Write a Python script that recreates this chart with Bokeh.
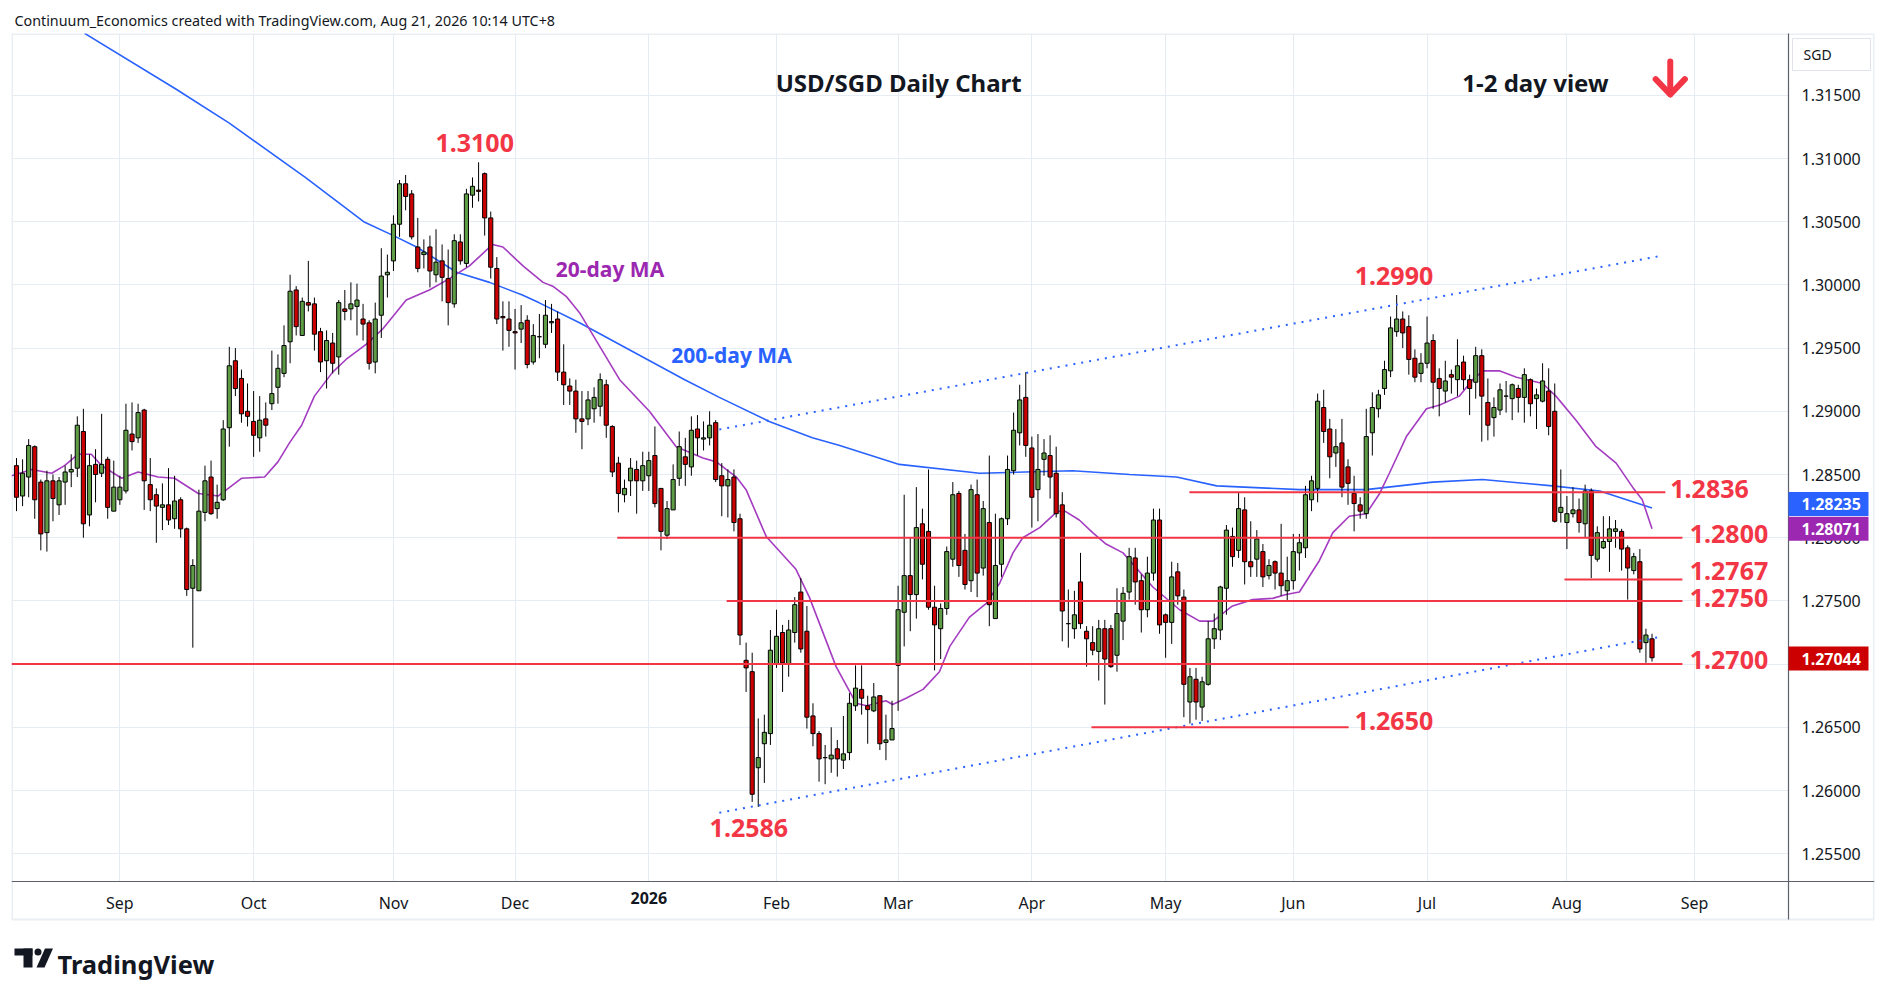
import pandas as pd
from bokeh.plotting import figure
from bokeh.models import Range1d, FixedTicker, PrintfTickFormatter, Label, Title, ColumnDataSource
from bokeh.embed import file_html
from bokeh.resources import INLINE

# ---------------- data ----------------
first_day = "2025-08-07"
holidays = ["2025-12-25", "2026-01-01"]

opens = [
1.2857,1.2833,1.2848,1.2872,1.2844,1.2804,1.2845,1.2826,1.2844,1.2852,
1.2855,1.2884,1.2818,1.2858,1.2851,1.2862,1.2821,1.2830,1.2837,1.2882,
1.2879,1.2901,1.2842,1.2834,1.2824,1.2826,1.2815,1.2830,1.2807,1.2760,
1.2758,1.2820,1.2848,1.2823,1.2830,1.2887,1.2940,1.2926,1.2900,1.2892,
1.2879,1.2894,1.2906,1.2919,1.2930,1.2955,1.2996,1.2960,1.2986,1.2985,
1.2963,1.2940,1.2954,1.2943,1.2981,1.2981,1.2983,1.2973,1.2970,1.2939,
1.2976,1.3008,1.3019,1.3048,1.3080,1.3072,1.3030,1.3024,1.3030,1.3008,
1.3019,1.3005,1.2985,1.3034,1.3017,1.3071,1.3075,1.3088,1.3053,1.3013,
1.2975,1.2973,1.2963,1.2965,1.2972,1.2939,1.2959,1.2953,1.2970,1.2973,
1.2931,1.2920,1.2916,1.2894,1.2894,1.2902,1.2904,1.2921,1.2888,1.2859,
1.2834,1.2845,1.2854,1.2845,1.2849,1.2865,1.2839,1.2802,1.2822,1.2847,
1.2864,1.2856,1.2886,1.2878,1.2879,1.2891,1.2849,1.2841,1.2848,1.2815,
1.2703,1.2694,1.2618,1.2637,1.2645,1.2700,1.2725,1.2700,1.2725,1.2757,
1.2726,1.2659,1.2645,1.2626,1.2625,1.2633,1.2624,1.2630,1.2667,1.2680,
1.2667,1.2663,1.2675,1.2638,1.2640,1.2699,1.2741,1.2770,1.2755,1.2811,
1.2805,1.2745,1.2728,1.2744,1.2783,1.2835,1.2790,1.2766,1.2834,1.2776,
1.2812,1.2736,1.2779,1.2815,1.2853,1.2883,1.2911,1.2871,1.2838,1.2862,
1.2865,1.2851,1.2826,1.2732,1.2728,1.2765,1.2726,1.2717,1.2710,1.2728,
1.2728,1.2707,1.2734,1.2757,1.2784,1.2766,1.2743,1.2772,1.2814,1.2739,
1.2733,1.2773,1.2753,1.2670,1.2688,1.2666,1.2684,1.2720,1.2727,1.2760,
1.2801,1.2790,1.2822,1.2781,1.2783,1.2789,1.2770,1.2781,1.2772,1.2758,
1.2766,1.2788,1.2792,1.2830,1.2839,1.2903,1.2886,1.2867,1.2875,1.2856,
1.2835,1.2826,1.2819,1.2883,1.2902,1.2918,1.2932,1.2963,1.2973,1.2967,
1.2942,1.2930,1.2938,1.2956,1.2926,1.2916,1.2929,1.2925,1.2939,1.2925,
1.2923,1.2944,1.2907,1.2895,1.2901,1.2912,1.2910,1.2918,1.2911,1.2925,
1.2910,1.2908,1.2916,1.2900,1.2820,1.2812,1.2819,1.2822,1.2811,1.2837,
1.2783,1.2792,1.2797,1.2805,1.2805,1.2792,1.2774,1.2781,1.2717,1.2720]

highs = [
1.2863,1.2862,1.2878,1.2873,1.2846,1.2853,1.2850,1.2848,1.2857,1.2866,
1.2896,1.2902,1.2866,1.2870,1.2898,1.2864,1.2861,1.2849,1.2906,1.2907,
1.2906,1.2902,1.2863,1.2839,1.2843,1.2855,1.2849,1.2832,1.2808,1.2783,
1.2838,1.2857,1.2861,1.2842,1.2893,1.2951,1.2950,1.2933,1.2922,1.2916,
1.2912,1.2907,1.2948,1.2945,1.2968,1.3008,1.2999,1.2990,1.3019,1.2990,
1.2966,1.2964,1.2962,1.2988,1.2996,1.3002,1.3001,1.2985,1.2972,1.2986,
1.3029,1.3024,1.3055,1.3083,1.3087,1.3075,1.3053,1.3036,1.3039,1.3044,
1.3032,1.3028,1.3040,1.3040,1.3076,1.3085,1.3097,1.3089,1.3058,1.3022,
1.2987,1.2987,1.2981,1.2984,1.2976,1.2969,1.2977,1.2988,1.2985,1.2979,
1.2953,1.2926,1.2925,1.2916,1.2916,1.2919,1.2930,1.2925,1.2889,1.2864,
1.2846,1.2863,1.2861,1.2868,1.2868,1.2888,1.2839,1.2829,1.2858,1.2884,
1.2879,1.2896,1.2897,1.2892,1.2900,1.2893,1.2859,1.2854,1.2854,1.2819,
1.2717,1.2709,1.2657,1.2660,1.2727,1.2743,1.2731,1.2735,1.2753,1.2768,
1.2746,1.2669,1.2647,1.2636,1.2650,1.2640,1.2659,1.2677,1.2699,1.2699,
1.2675,1.2685,1.2675,1.2660,1.2671,1.2762,1.2834,1.2800,1.2840,1.2823,
1.2854,1.2762,1.2748,1.2793,1.2844,1.2837,1.2803,1.2842,1.2846,1.2829,
1.2865,1.2819,1.2816,1.2865,1.2899,1.2921,1.2931,1.2880,1.2882,1.2878,
1.2881,1.2872,1.2836,1.2759,1.2758,1.2788,1.2730,1.2730,1.2735,1.2735,
1.2731,1.2760,1.2761,1.2792,1.2792,1.2771,1.2785,1.2823,1.2823,1.2740,
1.2781,1.2780,1.2759,1.2697,1.2697,1.2690,1.2734,1.2740,1.2762,1.2810,
1.2808,1.2836,1.2832,1.2813,1.2806,1.2795,1.2783,1.2782,1.2811,1.2785,
1.2803,1.2803,1.2841,1.2849,1.2914,1.2917,1.2894,1.2886,1.2894,1.2862,
1.2849,1.2832,1.2902,1.2915,1.2917,1.2940,1.2975,1.2992,1.2979,1.2976,
1.2949,1.2946,1.2975,1.2961,1.2934,1.2940,1.2933,1.2957,1.2944,1.2929,
1.2951,1.2949,1.2926,1.2911,1.2922,1.2924,1.2922,1.2921,1.2934,1.2926,
1.2918,1.2938,1.2934,1.2922,1.2854,1.2833,1.2840,1.2831,1.2842,1.2839,
1.2809,1.2817,1.2817,1.2814,1.2807,1.2794,1.2788,1.2791,1.2728,1.2724]

lows = [
1.2821,1.2825,1.2832,1.2815,1.2790,1.2789,1.2813,1.2818,1.2826,1.2840,
1.2848,1.2800,1.2809,1.2828,1.2848,1.2815,1.2821,1.2826,1.2835,1.2869,
1.2875,1.2822,1.2821,1.2796,1.2806,1.2810,1.2807,1.2800,1.2754,1.2713,
1.2758,1.2813,1.2818,1.2815,1.2829,1.2872,1.2912,1.2891,1.2888,1.2864,
1.2868,1.2880,1.2901,1.2906,1.2927,1.2938,1.2960,1.2960,1.2979,1.2948,
1.2931,1.2918,1.2930,1.2929,1.2972,1.2972,1.2960,1.2956,1.2933,1.2930,
1.2958,1.2990,1.3011,1.3038,1.3059,1.3036,1.3010,1.3013,1.2998,1.3002,
1.2987,1.2968,1.2982,1.3016,1.3014,1.3061,1.3066,1.3039,1.3005,1.2969,
1.2948,1.2951,1.2933,1.2954,1.2934,1.2937,1.2942,1.2950,1.2962,1.2924,
1.2905,1.2905,1.2883,1.2870,1.2889,1.2891,1.2896,1.2879,1.2848,1.2820,
1.2828,1.2833,1.2819,1.2837,1.2837,1.2824,1.2790,1.2799,1.2822,1.2841,
1.2841,1.2849,1.2865,1.2869,1.2873,1.2844,1.2817,1.2816,1.2805,1.2715,
1.2678,1.2591,1.2587,1.2606,1.2636,1.2697,1.2678,1.2690,1.2717,1.2709,
1.2649,1.2635,1.2607,1.2605,1.2614,1.2611,1.2617,1.2624,1.2663,1.2660,
1.2637,1.2662,1.2632,1.2624,1.2640,1.2663,1.2714,1.2726,1.2736,1.2767,
1.2743,1.2695,1.2704,1.2739,1.2777,1.2769,1.2759,1.2757,1.2753,1.2770,
1.2730,1.2736,1.2769,1.2810,1.2850,1.2873,1.2864,1.2808,1.2813,1.2849,
1.2831,1.2816,1.2718,1.2713,1.2720,1.2728,1.2698,1.2707,1.2687,1.2668,
1.2697,1.2694,1.2719,1.2751,1.2747,1.2725,1.2737,1.2766,1.2724,1.2705,
1.2716,1.2747,1.2658,1.2653,1.2656,1.2655,1.2683,1.2712,1.2719,1.2739,
1.2777,1.2784,1.2763,1.2769,1.2769,1.2761,1.2767,1.2759,1.2754,1.2750,
1.2759,1.2774,1.2784,1.2821,1.2828,1.2875,1.2847,1.2856,1.2832,1.2826,
1.2805,1.2815,1.2815,1.2865,1.2895,1.2913,1.2927,1.2959,1.2950,1.2929,
1.2923,1.2923,1.2934,1.2902,1.2896,1.2907,1.2914,1.2912,1.2917,1.2897,
1.2910,1.2876,1.2877,1.2880,1.2897,1.2899,1.2893,1.2899,1.2891,1.2896,
1.2886,1.2907,1.2881,1.2812,1.2812,1.2791,1.2816,1.2804,1.2800,1.2768,
1.2781,1.2791,1.2773,1.2792,1.2774,1.2751,1.2771,1.2709,1.2701,1.2702]

closes = [
1.2832,1.2851,1.2873,1.2830,1.2803,1.2845,1.2831,1.2845,1.2852,1.2854,
1.2889,1.2811,1.2857,1.2850,1.2858,1.2824,1.2840,1.2840,1.2885,1.2876,
1.2899,1.2845,1.2830,1.2825,1.2826,1.2814,1.2829,1.2807,1.2759,1.2778,
1.2821,1.2845,1.2819,1.2828,1.2886,1.2936,1.2918,1.2898,1.2896,1.2881,
1.2893,1.2889,1.2914,1.2934,1.2952,1.2995,1.2967,1.2987,1.2984,1.2961,
1.2939,1.2956,1.2938,1.2986,1.2979,1.2985,1.2988,1.2969,1.2938,1.2973,
1.3007,1.3010,1.3048,1.3080,1.3070,1.3038,1.3013,1.3026,1.3011,1.3018,
1.3006,1.2986,1.3035,1.3019,1.3072,1.3078,1.3074,1.3053,1.3014,1.2973,
1.2974,1.2964,1.2962,1.2970,1.2937,1.2960,1.2959,1.2976,1.2971,1.2931,
1.2921,1.2916,1.2894,1.2892,1.2909,1.2911,1.2925,1.2889,1.2852,1.2835,
1.2839,1.2855,1.2845,1.2857,1.2861,1.2827,1.2805,1.2823,1.2846,1.2872,
1.2858,1.2885,1.2879,1.2879,1.2889,1.2846,1.2841,1.2846,1.2812,1.2723,
1.2697,1.2597,1.2626,1.2646,1.2711,1.2722,1.2701,1.2727,1.2747,1.2712,
1.2658,1.2645,1.2625,1.2626,1.2628,1.2625,1.2629,1.2669,1.2681,1.2673,
1.2664,1.2674,1.2637,1.2640,1.2649,1.2743,1.2770,1.2755,1.2808,1.2779,
1.2745,1.2731,1.2744,1.2789,1.2834,1.2778,1.2763,1.2838,1.2772,1.2823,
1.2747,1.2778,1.2815,1.2854,1.2885,1.2909,1.2873,1.2832,1.2854,1.2867,
1.2848,1.2819,1.2742,1.2732,1.2739,1.2732,1.2720,1.2711,1.2728,1.2704,
1.2698,1.2740,1.2756,1.2785,1.2765,1.2743,1.2772,1.2814,1.2731,1.2733,
1.2769,1.2754,1.2684,1.2690,1.2670,1.2686,1.2720,1.2728,1.2761,1.2806,
1.2785,1.2823,1.2781,1.2777,1.2799,1.2769,1.2778,1.2772,1.2762,1.2766,
1.2789,1.2796,1.2834,1.2845,1.2908,1.2884,1.2864,1.2872,1.2840,1.2843,
1.2827,1.2821,1.2880,1.2903,1.2913,1.2933,1.2966,1.2973,1.2962,1.2941,
1.2927,1.2938,1.2954,1.2923,1.2918,1.2924,1.2927,1.2936,1.2925,1.2918,
1.2944,1.2912,1.2889,1.2903,1.2917,1.2912,1.2921,1.2911,1.2929,1.2906,
1.2913,1.2924,1.2888,1.2813,1.2824,1.2819,1.2822,1.2812,1.2837,1.2786,
1.2804,1.2797,1.2807,1.2807,1.2791,1.2776,1.2785,1.2712,1.2723,1.2705]

# 20-day MA (bar position, value)
ma20_pos = [-0.8,2.5,5.8,7.9,10.1,12.3,14.0,17.3,20.0,23.3,26.0,29.9,33.2,37.0,40.8,43.0,44.9,46.9,
            49.0,52.0,54.2,57.5,60.2,64.1,67.9,71.2,74.5,78.3,80.0,83.3,86.6,88.2,90.4,92.6,99.2,
            104.1,108.5,112.9,115.1,118.4,120.0,123.3,128.2,130.4,134.8,138.1,139.8,143.0,144.1,
            146.3,149.1,151.8,153.5,156.7,159.5,161.7,163.9,165.5,168.3,171.0,172.1,174.8,177.0,
            179.2,182.0,186.9,191.3,194.6,196.8,200.0,203.3,206.6,208.8,211.0,214.3,216.5,219.2,
            222.0,224.2,225.8,228.6,231.9,234.1,237.3,239.5,241.2,243.9,246.7,251.0,253.2,256.5,
            259.8,263.1,265.8,267.4,269.0]
ma20_val = [1.2849,1.2854,1.2851,1.2857,1.2866,1.2866,1.2857,1.2847,1.2852,1.2848,1.2847,1.2835,
            1.2833,1.2847,1.2848,1.2860,1.2875,1.2889,1.2912,1.2931,1.2941,1.2953,1.2965,1.2988,
            1.2996,1.3005,1.3015,1.3032,1.3030,1.3015,1.3002,1.2999,1.2991,1.2978,1.2925,1.2900,
            1.2872,1.2863,1.2860,1.2848,1.2838,1.2801,1.2775,1.2753,1.2698,1.2669,1.2667,1.2671,
            1.2668,1.2673,1.2680,1.2694,1.2714,1.2737,1.2748,1.2764,1.2788,1.2800,1.2808,1.2820,
            1.2822,1.2814,1.2804,1.2795,1.2788,1.2761,1.2743,1.2734,1.2734,1.2746,1.2751,1.2752,
            1.2755,1.2757,1.2782,1.2804,1.2817,1.2819,1.2835,1.2851,1.2880,1.2902,1.2905,1.2912,
            1.2925,1.2932,1.2932,1.2927,1.2922,1.2912,1.2893,1.2872,1.2859,1.2840,1.2830,1.2807]

# 200-day MA (bar position, value)
ma200_pos = [11.2,26.2,35.0,47.5,57.1,62.0,65.8,72.4,77.8,83.2,85.9,92.6,109.9,115.6,123.8,130.9,
             135.4,145.2,158.4,173.7,183.1,190.8,197.4,211.0,222.0,232.9,241.1,252.6,260.4,269.0]
ma200_val = [1.3199,1.3155,1.3128,1.3085,1.3050,1.3039,1.3030,1.3010,1.3002,1.2992,1.2986,1.2970,
             1.2925,1.2911,1.2892,1.2879,1.2873,1.2858,1.2851,1.2853,1.2850,1.2848,1.2841,1.2838,
             1.2838,1.2844,1.2846,1.2841,1.2837,1.28235]

levels = [1.2836, 1.2800, 1.2767, 1.2750, 1.2700, 1.2650]
level_texts = ["1.2836", "1.2800", "1.2767", "1.2750", "1.2700", "1.2650"]
peak_texts = ["1.3100", "1.2990", "1.2586"]

# channel (dotted) end points: (bar, price)
channel_upper = [(115.6, 1.28856), (270.4, 1.30229)]
channel_lower = [(115.6, 1.25824), (270.4, 1.27216)]

price_ticks = [1.255, 1.260, 1.265, 1.270, 1.275, 1.280, 1.285, 1.290, 1.295, 1.300, 1.305, 1.310, 1.315]
month_labels = ["Sep", "Oct", "Nov", "Dec", "2026", "Feb", "Mar", "Apr", "May", "Jun", "Jul", "Aug", "Sep"]

# last values shown on the price scale: (value, box centre)
last_ma200 = (1.28235, 1.28267)
last_ma20 = (1.28071, 1.28071)
last_close = (1.27044, 1.27044)

# ---------------- styling ----------------
UP = "#5E9C45"
DOWN = "#CC0000"
RED = "#F23645"
BLUE = "#2962FF"
PURPLE = "#9C27B0"
TXT = "#131722"
GRID = "#E6ECF3"
AXIS = "#5D606B"
EDGE = "#EBEEF3"
FONT = "Noto Sans"

# screen-pixel -> data helpers (for decorations only)
PX_PER_BAR, PX_PER_UNIT = 6.08, 12640.0
def dx(px):
    return (px - 17) / PX_PER_BAR
def dy(py):
    return 1.31 - (py - 159) / PX_PER_UNIT

days = pd.bdate_range(first_day, "2026-10-30")
days = days[~days.isin(pd.to_datetime(holidays))]
month_pos = [i for i in range(1, len(days)) if days[i].month != days[i - 1].month][:len(month_labels)]

n = len(closes)
idx = list(range(n))
src = ColumnDataSource(dict(
    x=idx, o=opens, h=highs, l=lows, c=closes,
    top=[max(o, c) for o, c in zip(opens, closes)],
    bot=[min(o, c) for o, c in zip(opens, closes)],
    col=[UP if c >= o else DOWN for o, c in zip(opens, closes)]))

X0, X1 = dx(12), dx(1875)        # frame also covers the price-scale strip
Y0, Y1 = dy(987), dy(34)         # ... and the date strip / footer
SCALE_X = dx(1789)               # where the price-scale strip begins
AXIS_Y = dy(882)                 # date axis line
BOTTOM_Y = dy(920)               # bottom edge of the chart box

p = figure(width=1880, height=988, title=None,
           x_range=Range1d(X0, X1), y_range=Range1d(Y0, Y1),
           output_backend="svg", toolbar_location=None, y_axis_location="right",
           min_border_left=11, min_border_right=6, min_border_top=33, min_border_bottom=2)
p.background_fill_color = "white"
p.border_fill_color = "white"
p.outline_line_color = None

# axes (labels drawn inward into the strips)
p.xaxis.ticker = FixedTicker(ticks=month_pos)
p.xaxis.major_label_overrides = {pos: ("" if lab == "2026" else lab) for pos, lab in zip(month_pos, month_labels)}
p.yaxis.ticker = FixedTicker(ticks=price_ticks)
p.yaxis.formatter = PrintfTickFormatter(format="%.5f")
for ax in (p.xaxis[0], p.yaxis[0]):
    ax.axis_line_color = None
    ax.major_tick_line_color = None
    ax.minor_tick_line_color = None
    ax.major_tick_out = 0
    ax.major_tick_in = 0
    ax.major_label_text_font = FONT
    ax.major_label_text_font_size = "16px"
    ax.major_label_text_color = TXT
p.xaxis.major_label_standoff = -95
p.yaxis.major_label_standoff = -73

p.xgrid.ticker = FixedTicker(ticks=month_pos)
p.ygrid.ticker = FixedTicker(ticks=price_ticks)
p.grid.grid_line_color = GRID
p.grid.grid_line_width = 1

# strips background, axis lines and chart box
p.quad(left=SCALE_X, right=X1 + 1, bottom=Y0 - 0.01, top=Y1 + 0.01, fill_color="white", line_color=None)
p.quad(left=X0 - 1, right=X1 + 1, bottom=Y0 - 0.01, top=AXIS_Y, fill_color="white", line_color=None)
p.segment(x0=[X0, dx(12.6), dx(1874.4), X0], y0=[dy(34.6), BOTTOM_Y, BOTTOM_Y, BOTTOM_Y],
          x1=[X1, dx(12.6), dx(1874.4), X1], y1=[dy(34.6), Y1, Y1, BOTTOM_Y],
          line_color=EDGE, line_width=2)
p.segment(x0=[SCALE_X, X0], y0=[BOTTOM_Y, AXIS_Y], x1=[SCALE_X, X1], y1=[Y1 + 0.01, AXIS_Y],
          line_color=AXIS, line_width=1.2)

# moving averages
p.line(ma200_pos, ma200_val, line_color=BLUE, line_width=1.6)
p.line(ma20_pos, ma20_val, line_color="#A43CC0", line_width=1.6)

# candles
p.segment(x0="x", y0="l", x1="x", y1="h", source=src, line_color="black", line_width=1)
p.vbar(x="x", top="top", bottom="bot", width=0.68, source=src, fill_color="col",
       line_color="black", line_width=1)

# channel lines
for ch in (channel_upper, channel_lower):
    p.line([ch[0][0], ch[1][0]], [ch[0][1], ch[1][1]], line_color=BLUE, line_width=2,
           line_dash="2 6")

# horizontal levels (start, end bar positions)
level_spans = [(192.9, 271.2), (98.8, 274.0), (254.6, 274.0), (116.8, 274.0), (X0, 274.0), (176.8, 219.1)]
p.segment(x0=[s[0] for s in level_spans], y0=levels, x1=[s[1] for s in level_spans], y1=levels,
          line_color=RED, line_width=2)

level_text_pos = [(272.0, 1.28389), (275.2, 1.28033), (275.2, 1.27733), (275.2, 1.27519),
                  (275.2, 1.27029), (220.1, 1.26546)]
for t, (x, y) in zip(level_texts, level_text_pos):
    p.add_layout(Label(x=x, y=y, text=t, text_color=RED, text_font=FONT, text_font_size="25px",
                       text_font_style="bold", text_baseline="middle", text_align="left"))
peak_pos = [(68.9, 1.3112), (220.1, 1.30074), (114.0, 1.25707)]
for t, (x, y) in zip(peak_texts, peak_pos):
    p.add_layout(Label(x=x, y=y, text=t, text_color=RED, text_font=FONT, text_font_size="25px",
                       text_font_style="bold", text_baseline="middle", text_align="left"))

p.add_layout(Label(x=88.7, y=1.30122, text="20-day MA", text_color=PURPLE, text_font=FONT,
                   text_font_size="21px", text_font_style="bold", text_baseline="middle"))
p.add_layout(Label(x=107.7, y=1.29449, text="200-day MA", text_color=BLUE, text_font=FONT,
                   text_font_size="21px", text_font_style="bold", text_baseline="middle"))
p.add_layout(Label(x=145.1, y=1.31601, text="USD/SGD Daily Chart", text_color=TXT, text_font=FONT,
                   text_font_size="24px", text_font_style="bold", text_baseline="middle",
                   text_align="center"))
p.add_layout(Label(x=237.8, y=1.31601, text="1-2 day view", text_color=TXT, text_font=FONT,
                   text_font_size="24px", text_font_style="bold", text_baseline="middle"))

# red down arrow
p.line([272.0, 272.0], [1.31767, 1.31510], line_color=RED, line_width=6, line_cap="round")
p.line([269.6, 272.0, 274.4], [1.31628, 1.31506, 1.31628], line_color=RED, line_width=6,
       line_cap="round", line_join="round")

# bold year label on the date strip
p.add_layout(Label(x=month_pos[month_labels.index("2026")], y=dy(892), text="2026",
                   text_color=TXT, text_font=FONT, text_font_size="16px", text_font_style="bold",
                   text_align="center", text_baseline="top"))

# currency box at the top of the price scale
p.quad(left=[dx(1793)], right=[dx(1871)], bottom=[dy(71)], top=[dy(39)], fill_color="white",
       line_color="#E0E3EB", line_width=1, level="annotation")
p.add_layout(Label(x=dx(1804), y=dy(55), text="SGD", text_color=TXT, text_font=FONT,
                   text_font_size="14px", text_baseline="middle"))

# last-value boxes on the price scale (drawn above the scale labels)
HALF = 0.00095
box_vals = [last_ma200, last_ma20, last_close]
box_cols = [BLUE, PURPLE, DOWN]
p.quad(left=[SCALE_X] * 3, right=[dx(1869)] * 3,
       bottom=[b[1] - HALF for b in box_vals], top=[b[1] + HALF for b in box_vals],
       fill_color=box_cols, line_color=None, level="annotation")
for (v, c) in box_vals:
    p.add_layout(Label(x=dx(1802), y=c, text=f"{v:.5f}", text_color="white", text_font=FONT,
                       text_font_size="16px", text_font_style="bold", text_baseline="middle"))

# header
p.add_layout(Title(text="Continuum_Economics created with TradingView.com, Aug 21, 2026 10:14 UTC+8",
                   align="left", offset=3, standoff=8, text_font=FONT, text_font_size="14.3px",
                   text_font_style="normal", text_color=TXT), "above")

# footer: TradingView logo mark and word mark
p.quad(left=[dx(15), dx(24)], right=[dx(33), dx(33)], top=[dy(949), dy(949)],
       bottom=[dy(956), dy(968)], fill_color=TXT, line_color=None)
p.scatter([dx(38.5)], [dy(952.5)], size=7, marker="circle", fill_color=TXT, line_color=None)
p.patch([dx(37), dx(45), dx(53.5), dx(45.5)], [dy(968), dy(968), dy(949), dy(949)],
        fill_color=TXT, line_color=None)
p.add_layout(Label(x=dx(58), y=dy(964), text="TradingView", text_color=TXT, text_font=FONT,
                   text_font_size="25.5px", text_font_style="bold", text_baseline="alphabetic"))

open("out.html", "w").write(file_html(p, INLINE))
